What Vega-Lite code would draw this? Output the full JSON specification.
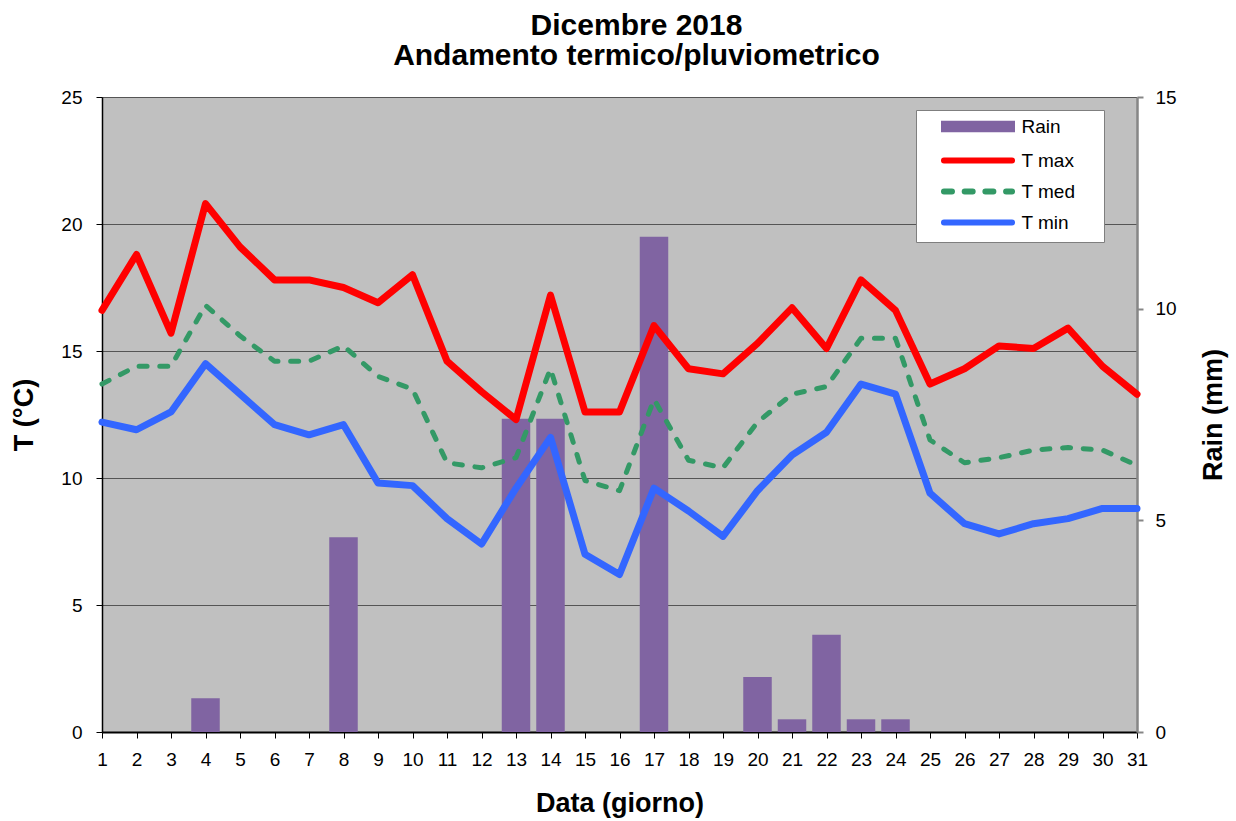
{
  "$schema": "https://vega.github.io/schema/vega-lite/v6.json",
  "width": 1035,
  "height": 635,
  "autosize": {"type": "none"},
  "padding": {"left": 102, "top": 97, "right": 99, "bottom": 89},
  "background": "white",
  "config": {
    "font": "Liberation Sans",
    "view": {"fill": "#c0c0c0", "stroke": null},
    "axis": {"labelColor": "black", "titleColor": "black", "labelFont": "Liberation Sans", "titleFont": "Liberation Sans"}
  },
  "title": {
    "text": ["Dicembre 2018", "Andamento termico/pluviometrico"],
    "fontSize": 30,
    "fontWeight": "bold",
    "font": "Liberation Sans",
    "color": "black",
    "anchor": "middle",
    "dx": 17,
    "offset": 17,
    "lineHeight": 30
  },
  "data": {
    "values": [
      {"day": 1, "tmax": 16.6, "tmed": 13.7, "tmin": 12.2, "rain": 0},
      {"day": 2, "tmax": 18.8, "tmed": 14.4, "tmin": 11.9, "rain": 0},
      {"day": 3, "tmax": 15.7, "tmed": 14.4, "tmin": 12.6, "rain": 0},
      {"day": 4, "tmax": 20.8, "tmed": 16.8, "tmin": 14.5, "rain": 0.8},
      {"day": 5, "tmax": 19.1, "tmed": 15.6, "tmin": 13.3, "rain": 0},
      {"day": 6, "tmax": 17.8, "tmed": 14.6, "tmin": 12.1, "rain": 0},
      {"day": 7, "tmax": 17.8, "tmed": 14.6, "tmin": 11.7, "rain": 0},
      {"day": 8, "tmax": 17.5, "tmed": 15.2, "tmin": 12.1, "rain": 4.6},
      {"day": 9, "tmax": 16.9, "tmed": 14.0, "tmin": 9.8, "rain": 0},
      {"day": 10, "tmax": 18.0, "tmed": 13.5, "tmin": 9.7, "rain": 0},
      {"day": 11, "tmax": 14.6, "tmed": 10.6, "tmin": 8.4, "rain": 0},
      {"day": 12, "tmax": 13.4, "tmed": 10.4, "tmin": 7.4, "rain": 0},
      {"day": 13, "tmax": 12.3, "tmed": 10.8, "tmin": 9.6, "rain": 7.4},
      {"day": 14, "tmax": 17.2, "tmed": 14.3, "tmin": 11.6, "rain": 7.4},
      {"day": 15, "tmax": 12.6, "tmed": 9.9, "tmin": 7.0, "rain": 0},
      {"day": 16, "tmax": 12.6, "tmed": 9.5, "tmin": 6.2, "rain": 0},
      {"day": 17, "tmax": 16.0, "tmed": 13.1, "tmin": 9.6, "rain": 11.7},
      {"day": 18, "tmax": 14.3, "tmed": 10.7, "tmin": 8.7, "rain": 0},
      {"day": 19, "tmax": 14.1, "tmed": 10.4, "tmin": 7.7, "rain": 0},
      {"day": 20, "tmax": 15.3, "tmed": 12.2, "tmin": 9.5, "rain": 1.3},
      {"day": 21, "tmax": 16.7, "tmed": 13.3, "tmin": 10.9, "rain": 0.3},
      {"day": 22, "tmax": 15.1, "tmed": 13.6, "tmin": 11.8, "rain": 2.3},
      {"day": 23, "tmax": 17.8, "tmed": 15.5, "tmin": 13.7, "rain": 0.3},
      {"day": 24, "tmax": 16.6, "tmed": 15.5, "tmin": 13.3, "rain": 0.3},
      {"day": 25, "tmax": 13.7, "tmed": 11.5, "tmin": 9.4, "rain": 0},
      {"day": 26, "tmax": 14.3, "tmed": 10.6, "tmin": 8.2, "rain": 0},
      {"day": 27, "tmax": 15.2, "tmed": 10.8, "tmin": 7.8, "rain": 0},
      {"day": 28, "tmax": 15.1, "tmed": 11.1, "tmin": 8.2, "rain": 0},
      {"day": 29, "tmax": 15.9, "tmed": 11.2, "tmin": 8.4, "rain": 0},
      {"day": 30, "tmax": 14.4, "tmed": 11.1, "tmin": 8.8, "rain": 0},
      {"day": 31, "tmax": 13.3, "tmed": 10.5, "tmin": 8.8, "rain": 0}
    ]
  },
  "encoding": {
    "x": {
      "field": "day",
      "type": "quantitative",
      "title": "Data (giorno)",
      "scale": {"domain": [1, 31], "nice": false, "zero": false, "padding": 0},
      "axis": {
        "values": [1,2,3,4,5,6,7,8,9,10,11,12,13,14,15,16,17,18,19,20,21,22,23,24,25,26,27,28,29,30,31],
        "format": "d",
        "labelFlush": false,
        "labelOverlap": false,
        "labelFontSize": 19,
        "labelPadding": 12,
        "tickSize": 6,
        "tickColor": "black",
        "tickWidth": 1,
        "domainColor": "black",
        "domainWidth": 2,
        "grid": false,
        "titleFontSize": 27,
        "titleFontWeight": "bold",
        "titlePadding": 21
      }
    }
  },
  "layer": [
    {
      "mark": {"type": "bar", "width": 28.5},
      "encoding": {
        "y": {
          "field": "rain",
          "type": "quantitative",
          "title": "Rain (mm)",
          "scale": {"domain": [0, 15], "nice": false},
          "axis": {
            "orient": "right",
            "values": [0, 5, 10, 15],
            "grid": false,
            "domainColor": "#868686",
            "domainWidth": 2.5,
            "tickColor": "#868686",
            "tickWidth": 2,
            "tickSize": 6,
            "labelFontSize": 19,
            "labelPadding": 12,
            "titleFontSize": 27,
            "titleFontWeight": "bold",
            "titleAngle": 270,
            "titleBaseline": "top",
            "titlePadding": 24
          }
        },
        "color": {
          "datum": "Rain",
          "type": "nominal",
          "scale": {
            "domain": ["Rain", "T max", "T med", "T min"],
            "range": ["#8064a2", "#ff0000", "#339966", "#3366ff"]
          },
          "legend": {
            "title": null,
            "orient": "none",
            "legendX": 814,
            "legendY": 13,
            "fillColor": "white",
            "strokeColor": "#7f7f7f",
            "padding": 7,
            "labelFontSize": 19,
            "labelColor": "black",
            "symbolSize": 144,
            "symbolStrokeWidth": 6,
            "rowPadding": 6,
            "symbolOffset": 45.5,
            "labelOffset": 34,
            "labelExpr": "datum.label + '\u00a0\u00a0\u00a0\u00a0\u200b'",
            "encode": {
              "symbols": {
                "update": {
                  "shape": {"signal": "datum.value === 'Rain' ? 'M-5.67,-0.45H5.67V0.45H-5.67Z' : 'M-5.67,0L5.67,0'"},
                  "fill": {"signal": "datum.value === 'Rain' ? '#8064a2' : 'transparent'"},
                  "stroke": {"signal": "datum.value === 'Rain' ? 'transparent' : datum.value === 'T max' ? '#ff0000' : datum.value === 'T med' ? '#339966' : '#3366ff'"},
                  "strokeDash": {"signal": "datum.value === 'T med' ? [8, 12.7] : [1, 0]"},
                  "strokeCap": {"value": "round"},
                  "opacity": {"value": 1}
                }
              }
            }
          }
        }
      }
    },
    {
      "layer": [
        {
          "mark": {"type": "line", "strokeWidth": 7, "strokeJoin": "round", "strokeCap": "round"},
          "encoding": {
            "y": {
              "field": "tmax",
              "type": "quantitative",
              "title": "T (°C)",
              "scale": {"domain": [0, 25], "nice": false},
              "axis": {
                "values": [0, 5, 10, 15, 20, 25],
                "grid": true,
                "gridColor": "#555555",
                "gridWidth": 1,
                "domainColor": "black",
                "domainWidth": 1.5,
                "tickColor": "black",
                "tickSize": 6,
                "labelFontSize": 19,
                "labelPadding": 14,
                "titleFontSize": 27,
                "titleFontWeight": "bold",
                "titlePadding": 22
              }
            },
            "color": {"datum": "T max", "type": "nominal"}
          }
        },
        {
          "mark": {"type": "line", "strokeWidth": 5, "strokeJoin": "round", "strokeCap": "round", "strokeDash": [8, 12.7]},
          "encoding": {
            "y": {"field": "tmed", "type": "quantitative", "title": "T (°C)"},
            "color": {"datum": "T med", "type": "nominal"}
          }
        },
        {
          "mark": {"type": "line", "strokeWidth": 7, "strokeJoin": "round", "strokeCap": "round"},
          "encoding": {
            "y": {"field": "tmin", "type": "quantitative", "title": "T (°C)"},
            "color": {"datum": "T min", "type": "nominal"}
          }
        }
      ]
    }
  ],
  "resolve": {"scale": {"y": "independent"}}
}
